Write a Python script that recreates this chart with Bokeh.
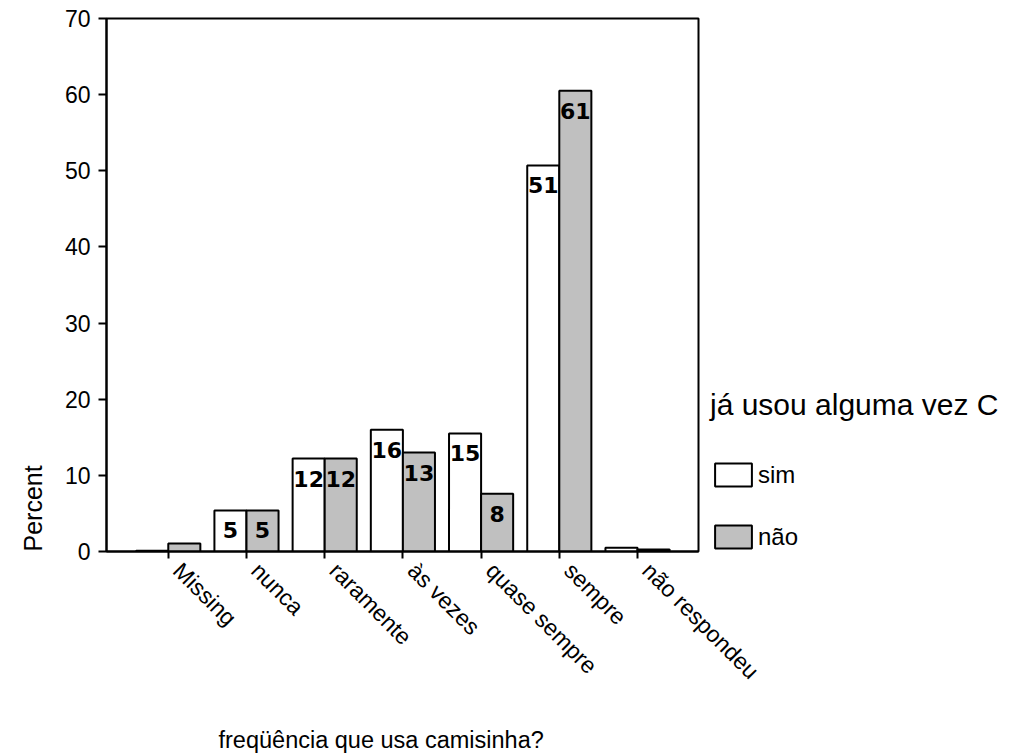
import math
from bokeh.plotting import figure
from bokeh.models import (Range1d, FixedTicker, ColumnDataSource, LabelSet, Title,
                          Legend, LegendItem, LinearAxis)
from bokeh.core.properties import value
from bokeh.embed import file_html
from bokeh.resources import INLINE

categories = ["Missing", "nunca", "raramente", "às vezes", "quase sempre", "sempre", "não respondeu"]
sim_values = [0.1, 5.4, 12.2, 16.0, 15.5, 50.7, 0.5]
nao_values = [1.05, 5.4, 12.2, 13.0, 7.6, 60.5, 0.26]
sim_labels = ["", "5", "12", "16", "15", "51", ""]
nao_labels = ["", "5", "12", "13", "8", "61", ""]
series_names = ["sim", "não"]
legend_title = "já usou alguma vez C"
x_title = "freqüência que usa camisinha?"
y_title = "Percent"

FONT = "Liberation Sans"
BW = 0.41
LABEL_SHIFT = 0.115

idx = list(range(len(categories)))
src_sim = ColumnDataSource(dict(x=[i - BW / 2 for i in idx], top=sim_values, lab=sim_labels))
src_nao = ColumnDataSource(dict(x=[i + BW / 2 for i in idx], top=nao_values, lab=nao_labels))

p = figure(frame_width=592, frame_height=533, width=1016, height=754,
           min_border_left=106, min_border_top=18, min_border_right=318, min_border_bottom=203,
           x_range=Range1d(-0.79, 6.78), y_range=Range1d(0, 70),
           x_axis_location=None,
           output_backend="svg", toolbar_location=None, tools="")

r_sim = p.vbar(x="x", top="top", width=BW, bottom=0, source=src_sim,
               fill_color="white", line_color="black", line_width=2)
r_nao = p.vbar(x="x", top="top", width=BW, bottom=0, source=src_nao,
               fill_color="#c0c0c0", line_color="black", line_width=2)

for src in (src_sim, src_nao):
    p.add_layout(LabelSet(x="x", y="top", text="lab", source=src, y_offset=-20,
                          text_align="center", text_baseline="middle",
                          text_font=value("DejaVu Sans"), text_font_style="bold",
                          text_font_size="22px", text_color="black"))

p.grid.visible = False
p.outline_line_color = "black"
p.outline_line_width = 2
p.background_fill_color = "white"
p.border_fill_color = "white"

p.yaxis.ticker = FixedTicker(ticks=[0, 10, 20, 30, 40, 50, 60, 70])
p.yaxis.minor_tick_line_color = None
p.yaxis.major_tick_in = 0
p.yaxis.major_tick_out = 8
p.yaxis.major_tick_line_width = 2
p.yaxis.axis_line_width = 2
p.yaxis.major_label_standoff = 8
p.yaxis.major_label_text_font = FONT
p.yaxis.major_label_text_font_size = "23px"
p.yaxis.major_label_text_color = "black"

p.add_layout(Title(text=y_title, align="left", standoff=30, offset=0,
                   text_font=FONT, text_font_size="25px", text_font_style="normal",
                   text_color="black"), "left")

# axis with the tick marks at the category centres
tick_axis = LinearAxis(ticker=FixedTicker(ticks=idx),
                       major_label_overrides={i: "" for i in idx},
                       major_label_text_font_size="0px", major_label_standoff=0,
                       minor_tick_line_color=None, major_tick_in=0, major_tick_out=7,
                       major_tick_line_width=2, axis_line_width=2)
p.add_layout(tick_axis, "below")

# axis carrying the rotated category names
label_ticks = [i + LABEL_SHIFT for i in idx]
label_axis = LinearAxis(ticker=FixedTicker(ticks=label_ticks),
                        major_label_overrides={t: c for t, c in zip(label_ticks, categories)},
                        major_label_orientation=-math.pi / 4,
                        axis_line_color=None, major_tick_line_color=None,
                        minor_tick_line_color=None, major_label_standoff=2,
                        major_label_text_font=FONT, major_label_text_font_size="23px",
                        major_label_text_color="black")
p.add_layout(label_axis, "below")

p.add_layout(Title(text=x_title, align="left", standoff=56, offset=112,
                   text_font=FONT, text_font_size="23.5px", text_font_style="normal",
                   text_color="black"), "below")

legend = Legend(items=[LegendItem(label=series_names[0], renderers=[r_sim]),
                       LegendItem(label=series_names[1], renderers=[r_nao])],
                location=(12, 0), title=legend_title,
                title_text_font=FONT, title_text_font_size="30px", title_text_font_style="normal",
                title_text_color="black", title_standoff=38,
                label_text_font=FONT, label_text_font_size="24px", label_text_color="black",
                glyph_width=46, glyph_height=29, label_standoff=2, spacing=33,
                padding=0, margin=0, border_line_color=None, background_fill_alpha=0)
p.add_layout(legend, "right")

open("out.html", "w").write(file_html(p, INLINE))
